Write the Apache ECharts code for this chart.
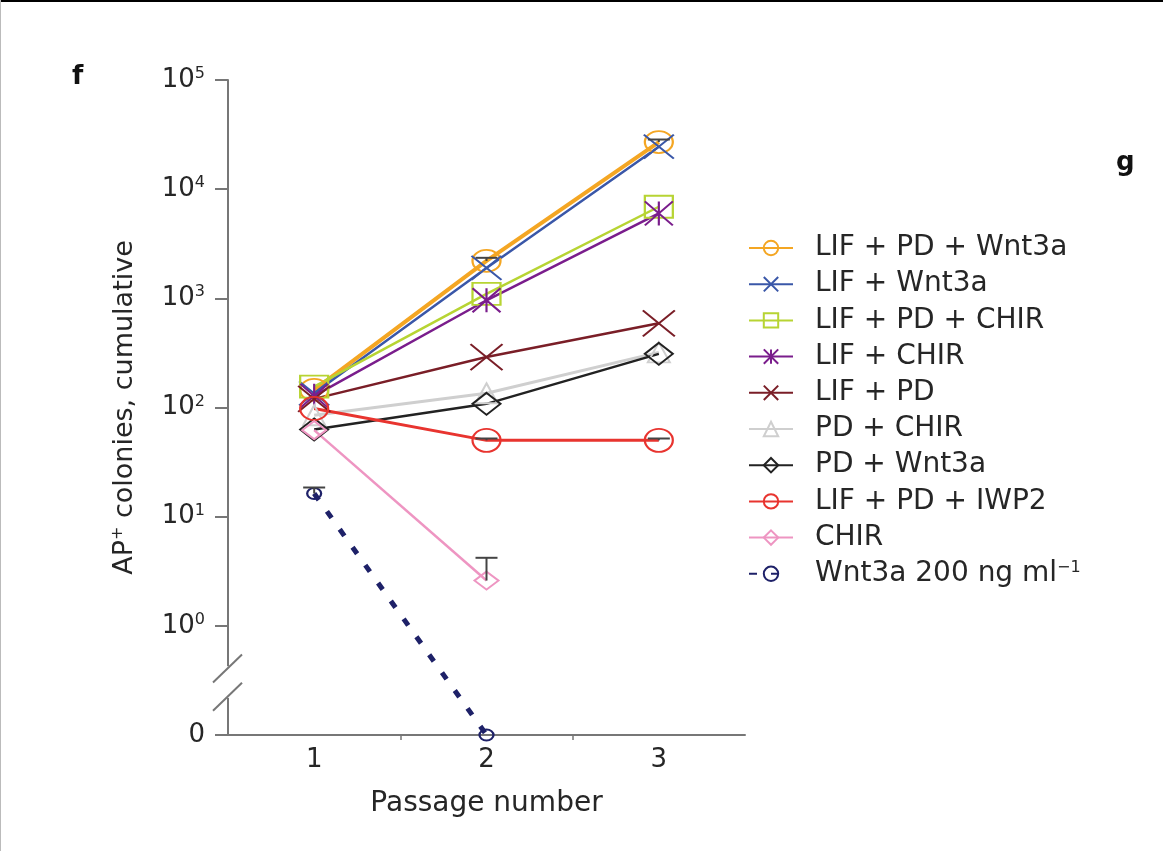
<!DOCTYPE html>
<html>
<head>
<meta charset="utf-8">
<script src="https://cdn.jsdelivr.net/npm/echarts@6/dist/echarts.min.js"></script>
<style>
html,body{margin:0;padding:0;background:#fff;}
#c{width:1163px;height:851px;}
</style>
</head>
<body>
<div id="c"></div>
<script>
// ---- data ----
var passages = [1, 2, 3];
var seriesNames = ['LIF + PD + Wnt3a','LIF + Wnt3a','LIF + PD + CHIR','LIF + CHIR','LIF + PD','PD + CHIR','PD + Wnt3a','LIF + PD + IWP2','CHIR','Wnt3a 200 ng ml-1'];
var lifPdWnt3a   = [145, 2200, 27000];
var lifWnt3a     = [135, 1900, 24500];
var lifPdChir    = [155, 1100, 6900];
var lifChir      = [128, 960, 6000];
var lifPd        = [120, 290, 590];
var pdChir       = [85, 135, 320];
var pdWnt3a      = [63, 108, 310];
var lifPdIwp2    = [98, 50, 50];
var chir         = [62, 2.6, null];
var wnt3a200     = [16.3, 0, null];
// error bars: [passage, value, upper]
var errorBars = [[2, 2.6, 4.2], [1, 16.3, 18.5], [2, 50, 52], [3, 50, 52], [2, 2200, 2350], [3, 27000, 28500]];
var xTickLabels = [1, 2, 3];

// ---- helpers ----
function tr(v){ if (v === null) return null; return v === 0 ? -1 : Math.log10(v); }
function pts(arr){ return arr.map(function(v,i){ return v === null ? null : [passages[i], tr(v)]; }).filter(function(p){return p;}); }

var XPATH = 'path://M0,0L20,16M20,0L0,16';
var STAR  = 'path://M0,0L20,16M20,0L0,16M10,0L10,16';

var defs = [
  {name: seriesNames[0], data: lifPdWnt3a, color:'#F4A623', symbol:'circle', size:[28,22], lw:4},
  {name: seriesNames[1], data: lifWnt3a, color:'#3A57A8', symbol:XPATH, size:[30,24], lw:2.5},
  {name: seriesNames[2], data: lifPdChir, color:'#B7D433', symbol:'rect', size:[28,22], lw:2.5},
  {name: seriesNames[3], data: lifChir, color:'#7A1D8C', symbol:STAR, size:[28,24], lw:2.5},
  {name: seriesNames[4], data: lifPd, color:'#7A1E27', symbol:XPATH, size:[32,26], lw:2.5},
  {name: seriesNames[5], data: pdChir, color:'#CFCFCF', symbol:'triangle', size:[22,20], lw:3},
  {name: seriesNames[6], data: pdWnt3a, color:'#222222', symbol:'diamond', size:[28,22], lw:2.5},
  {name: seriesNames[7], data: lifPdIwp2, color:'#E8342F', symbol:'circle', size:[28,23], lw:3},
  {name: seriesNames[8], data: chir, color:'#EE95C2', symbol:'diamond', size:[24,18], lw:2.5},
  {name: seriesNames[9], data: wnt3a200, color:'#1E2168', symbol:'circle', size:[14,11], lw:5, dash:[8,14]}
];

var series = defs.map(function(d){
  return {
    name: d.name, type:'line', data: pts(d.data), color: d.color,
    symbol: d.symbol, symbolSize: d.size, showAllSymbol: true,
    lineStyle: {color: d.color, width: d.lw, type: d.dash || 'solid', cap:'butt'},
    itemStyle: {color: 'rgba(255,255,255,0)', borderColor: d.color, borderWidth: 2},
    emphasis: {disabled: true}, animation: false, z: 3
  };
});

series.push({
  type:'custom', name:'err', silent:true, animation:false, z: 4,
  data: errorBars.map(function(e){ return [e[0], tr(e[1]), tr(e[2])]; }),
  renderItem: function(params, api){
    var p0 = api.coord([api.value(0), api.value(1)]);
    var p1 = api.coord([api.value(0), api.value(2)]);
    return {type:'group', children:[
      {type:'line', shape:{x1:p0[0], y1:p0[1], x2:p1[0], y2:p1[1]}, style:{stroke:'#444', lineWidth:2}},
      {type:'line', shape:{x1:p1[0]-11, y1:p1[1], x2:p1[0]+11, y2:p1[1]}, style:{stroke:'#444', lineWidth:2}}
    ]};
  }
});

var FONT = 'DejaVu Sans, Verdana, sans-serif';
var TC = '#262626';
var chart = echarts.init(document.getElementById('c'), null, {renderer:'canvas'});
chart.setOption({
  backgroundColor:'#fff',
  animation:false,
  grid:{left:228, right:418, top:80, bottom:116, containLabel:false},
  legend:{
    data: seriesNames, orient:'vertical', left:743, top:229,
    itemWidth:44, itemHeight:18, itemGap:8.2,
    selectedMode:false,
    formatter:function(n){
      if (n === seriesNames[9]) return '{t|Wnt3a 200 ng ml}{s|\u22121}';
      return '{t|' + n + '}';
    },
    textStyle:{
      fontFamily:FONT, fontSize:28, color:TC, padding:[0,0,0,17],
      rich:{ t:{fontFamily:FONT, fontSize:28, color:TC, lineHeight:28},
             s:{fontFamily:FONT, fontSize:16, color:TC, verticalAlign:'top', lineHeight:16} }
    }
  },
  xAxis:{
    type:'value', min:0.5, max:3.5, interval:0.5,
    name:'Passage number', nameLocation:'middle', nameGap:55,
    nameTextStyle:{fontFamily:FONT, fontSize:28, color:TC},
    axisLine:{show:true, onZero:false, lineStyle:{color:'#777', width:2}},
    axisTick:{show:true, customValues:[1.5, 2.5], length:5, lineStyle:{color:'#777', width:1.5}},
    axisLabel:{customValues:xTickLabels, fontFamily:FONT, fontSize:26, color:TC, margin:12},
    splitLine:{show:false}
  },
  yAxis:{
    type:'value', min:-1, max:5, interval:1,
    name:'{a|AP}{s|+}{a| colonies, cumulative}', nameLocation:'middle', nameGap:88,
    nameTextStyle:{fontFamily:FONT, fontSize:27, color:TC,
      rich:{a:{fontFamily:FONT, fontSize:27, color:TC, lineHeight:30},
            s:{fontFamily:FONT, fontSize:16, color:TC, verticalAlign:'top', lineHeight:16}}},
    axisLine:{show:true, onZero:false, lineStyle:{color:'#777', width:2}},
    axisTick:{show:true, length:13, lineStyle:{color:'#777', width:2}},
    axisLabel:{
      fontFamily:FONT, fontSize:26, color:TC, margin:23,
      formatter:function(v){ v = Math.round(v); return v === -1 ? '{b|0}' : '{b|10}{s|' + v + '}'; },
      rich:{ b:{fontFamily:FONT, fontSize:26, color:TC, lineHeight:28},
             s:{fontFamily:FONT, fontSize:16, color:TC, verticalAlign:'top', lineHeight:16} }
    },
    splitLine:{show:false}
  },
  series: series
});

// axis break decoration (positions derived from the axis scale)
var ax = chart.convertToPixel({xAxisIndex:0}, 0.5);
var gTop = chart.convertToPixel({yAxisIndex:0}, -0.37);
var gBot = chart.convertToPixel({yAxisIndex:0}, -0.66);
var s1 = chart.convertToPixel({yAxisIndex:0}, -0.39);
var s2 = chart.convertToPixel({yAxisIndex:0}, -0.65);
chart.setOption({
  graphic:[
    {type:'rect', shape:{x:ax-3, y:gTop, width:6, height:gBot-gTop}, style:{fill:'#fff'}, z:10},
    {type:'line', shape:{x1:ax-15, y1:s1+14, x2:ax+14, y2:s1-14}, style:{stroke:'#777', lineWidth:2}, z:11},
    {type:'line', shape:{x1:ax-15, y1:s2+14, x2:ax+14, y2:s2-14}, style:{stroke:'#777', lineWidth:2}, z:11},
    {type:'text', left:72, top:64, style:{text:'f', fontSize:26, fontWeight:'bold', fontFamily:'DejaVu Sans', fill:'#111'}, z:11},
    {type:'text', left:1116, top:150, style:{text:'g', fontSize:26, fontWeight:'bold', fontFamily:'DejaVu Sans', fill:'#111'}, z:11},
    {type:'rect', shape:{x:0, y:0, width:1163, height:2}, style:{fill:'#000'}, z:12},
    {type:'rect', shape:{x:0, y:0, width:1, height:851}, style:{fill:'#bbb'}, z:12}
  ]
});
</script>
</body>
</html>
